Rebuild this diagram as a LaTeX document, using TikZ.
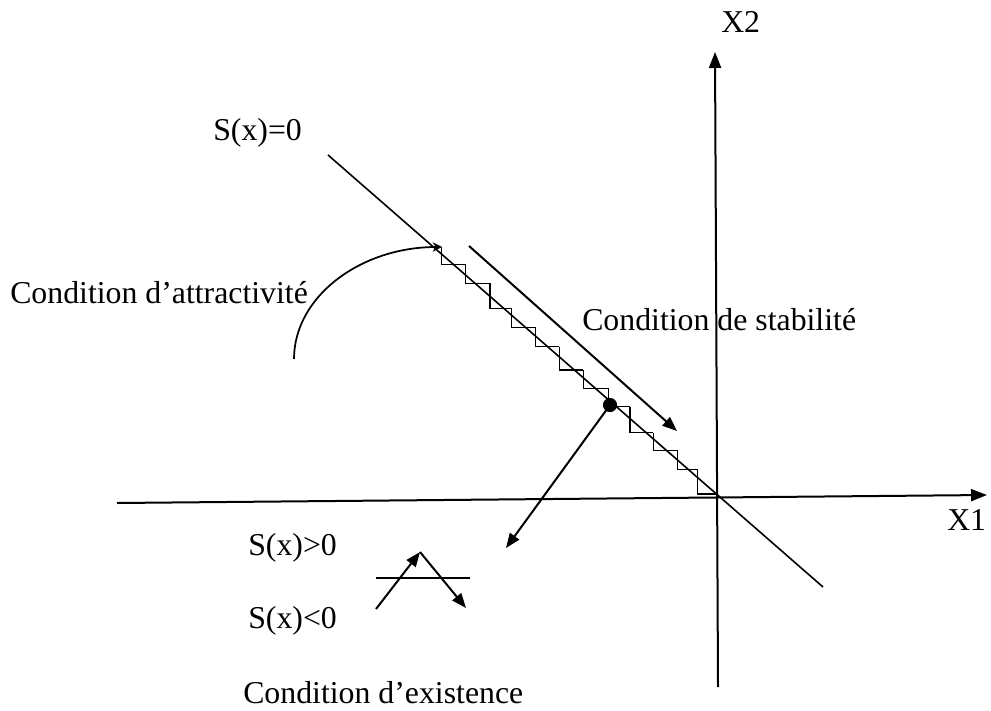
\documentclass[tikz,border=0pt]{standalone}
\usepackage{fontspec}
\setmainfont{Liberation Serif}
\usetikzlibrary{arrows.meta, positioning}

\begin{document}
\begin{tikzpicture}[
    x=0.75pt, y=-0.75pt,
    every node/.style={font=\fontsize{23.85}{28}\selectfont, inner sep=0pt},
    lbl/.style={anchor=base west},
    axisline/.style={line width=1.5pt, -{Triangle[length=12pt, width=9pt]}},
    slide/.style={line width=1.2pt},
    stair/.style={line width=1.1pt},
    bigarr/.style={line width=1.5pt, -{Triangle[length=11pt, width=8.5pt]}},
    curvarr/.style={line width=1.3pt, -{Stealth[length=7pt, width=7pt]}},
]
\useasboundingbox (0,0) rectangle (991,710);

% the two axes
\coordinate (O) at (717,496);
\coordinate (x1l) at (117,503);
\coordinate (x1r) at (987,495);
\coordinate (x2b) at (718,687);
\coordinate (x2t) at (715,52);
\draw[axisline] (x1l) -- (x1r);
\draw[axisline] (x2b) -- (x2t);
\node[lbl] (lx1) at (947,530) {X1};
\node[lbl] (lx2) at (721,33) {X2};

% sliding surface S(x)=0
\coordinate (sa) at (328,155);
\coordinate (sb) at (823,587);
\draw[slide] (sa) -- (sb);
\node[lbl] (lsx) at (213,140) {S(x)=0};

% chattering around the surface
\foreach \xa/\ya/\xb/\yb in {441.7/246.7/465.7/264.3, 465.7/264.3/490/283.3,
                             490/283.3/511.7/308.3, 511.7/308.3/535.7/327.7,
                             535.7/327.7/559.3/346.7, 559.3/346.7/583.3/370,
                             583.3/370/608.3/388.3, 608.3/388.3/630/406.7,
                             630/406.7/653.3/432.7, 653.3/432.7/677.7/450.7,
                             677.7/450.7/697.7/469.3, 697.7/469.3/717/494}{
    \draw[stair] (\xa,\ya) |- (\xb,\yb);
}

% attractivity
\coordinate (st0) at (442,247);
\coordinate (att0) at (294,359);
\draw[curvarr] (att0) .. controls (294,297) and (360,247) .. (st0);
\node[lbl] (lattr) at (10,303) {Condition d’attractivité};

% stability
\coordinate (stb0) at (469,246);
\coordinate (stb1) at (677,431);
\draw[bigarr] (stb0) -- (stb1);
\node[lbl] (lstab) at (582,330) {Condition de stabilité};

% existence
\coordinate (dot) at (610,405);
\coordinate (ex1) at (506,548);
\fill (dot) circle (5.3pt);
\draw[bigarr] (dot) -- (ex1);

\coordinate (hl) at (376,578);
\coordinate (hr) at (470,578);
\coordinate (za) at (376,609);
\coordinate (zb) at (420,552);
\coordinate (zc) at (466,608);
\draw[stair] (hl) -- (hr);
\draw[bigarr] (za) -- (zb);
\draw[bigarr] (zb) -- (zc);
\node[lbl] (lpos) at (248,555) {S(x)>0};
\node[lbl] (lneg) at (248,628) {S(x)<0};
\node[lbl] (lexist) at (243,703) {Condition d’existence};
\end{tikzpicture}
\end{document}
